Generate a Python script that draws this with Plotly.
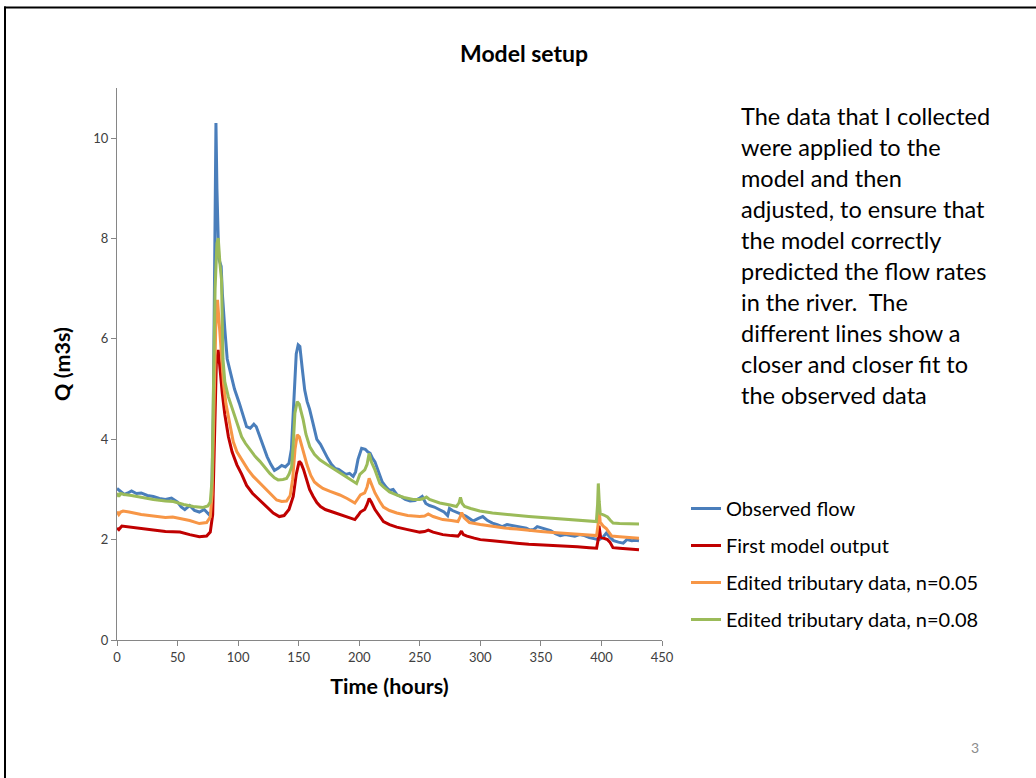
import plotly.graph_objects as go

# ---- data ----
observed_flow = [
    (0, 3.02), (3, 2.95), (6, 2.90), (9, 2.93), (12, 2.97), (16, 2.92), (20, 2.93),
    (25, 2.88), (30, 2.86), (35, 2.82), (40, 2.80), (45, 2.83), (50, 2.75), (53, 2.65),
    (56, 2.60), (60, 2.68), (64, 2.58), (68, 2.55), (72, 2.60), (76, 2.50), (78, 2.55),
    (79.5, 4.5), (81, 9.0), (81.7, 10.3), (82.5, 9.0), (84, 7.6), (86, 7.45), (87, 6.9),
    (89, 6.2), (91, 5.6), (94, 5.3), (97, 5.0), (101, 4.72), (104, 4.5), (107, 4.25),
    (110, 4.22), (113, 4.30), (115, 4.25), (118, 4.05), (121, 3.85), (124, 3.65),
    (127, 3.50), (130, 3.38), (133, 3.42), (136, 3.48), (139, 3.45), (142, 3.52),
    (144, 3.8), (146, 4.8), (148, 5.7), (149.6, 5.88), (151, 5.85), (153, 5.4),
    (155, 4.98), (157, 4.75), (159, 4.6), (162, 4.3), (165, 4.0), (168, 3.9),
    (171, 3.75), (174, 3.62), (177, 3.50), (180, 3.42), (183, 3.40), (186, 3.35),
    (189, 3.30), (192, 3.32), (195, 3.26), (197, 3.35), (199, 3.60), (202, 3.82),
    (205, 3.80), (207, 3.75), (209, 3.72), (211, 3.62), (213, 3.55), (216, 3.35),
    (219, 3.15), (222, 3.05), (225, 2.98), (228, 3.00), (231, 2.90), (235, 2.85),
    (238, 2.80), (242, 2.77), (246, 2.78), (250, 2.83), (252, 2.86), (255, 2.72),
    (258, 2.68), (262, 2.65), (266, 2.60), (270, 2.55), (273, 2.48), (274.5, 2.62),
    (277, 2.58), (280, 2.55), (284, 2.50), (288, 2.47), (291, 2.42), (294, 2.37),
    (298, 2.42), (302, 2.46), (306, 2.38), (310, 2.33), (314, 2.30), (318, 2.26),
    (322, 2.30), (326, 2.28), (330, 2.27), (334, 2.25), (338, 2.23), (341, 2.19),
    (344, 2.20), (347, 2.26), (350, 2.24), (354, 2.20), (358, 2.18), (362, 2.12),
    (366, 2.08), (370, 2.10), (374, 2.09), (378, 2.07), (382, 2.10), (386, 2.08),
    (390, 2.04), (394, 2.02), (398, 2.00), (401, 2.04), (404, 2.13), (407, 2.05),
    (410, 1.98), (414, 1.95), (418, 1.93), (421, 2.00), (425, 1.98), (428, 1.99),
    (431, 1.98),
]

first_model = [
    (0, 2.23), (1.5, 2.20), (4, 2.27), (10, 2.25), (20, 2.21), (30, 2.19), (40, 2.16),
    (46, 2.16), (52, 2.15), (60, 2.10), (68, 2.06), (74, 2.07), (77, 2.15), (79, 2.5),
    (80.5, 4.2), (82, 5.5), (83.6, 5.78), (85, 5.4), (87, 4.9), (89, 4.5), (92, 4.05),
    (95, 3.75), (99, 3.49), (103, 3.30), (107, 3.08), (112, 2.92), (118, 2.78),
    (124, 2.63), (129, 2.53), (134, 2.46), (138, 2.48), (142, 2.60), (145.5, 2.86),
    (148, 3.30), (150.4, 3.56), (152, 3.52), (154, 3.40), (156.5, 3.20), (159, 3.00),
    (162, 2.86), (165, 2.74), (168, 2.66), (172, 2.60), (178, 2.55), (184, 2.50),
    (190, 2.45), (196.4, 2.40), (199, 2.48), (201, 2.55), (204.5, 2.60), (206.5, 2.70),
    (208.2, 2.82), (210, 2.75), (213, 2.60), (217, 2.45), (220, 2.36), (225, 2.30),
    (231, 2.25), (240, 2.20), (250, 2.15), (254, 2.16), (257, 2.19), (261, 2.15),
    (269, 2.10), (276, 2.08), (281.5, 2.07), (283.2, 2.12), (284.4, 2.17), (286, 2.10),
    (289, 2.07), (295, 2.03), (300, 2.00), (310, 1.98), (320, 1.95), (330, 1.93),
    (340, 1.91), (350, 1.90), (360, 1.88), (370, 1.87), (380, 1.86), (390, 1.84),
    (396, 1.83), (397.3, 2.00), (398, 2.28), (399.3, 2.05), (402, 2.02), (405, 2.00),
    (407, 1.95), (409.5, 1.84), (415, 1.83), (420, 1.82), (425, 1.81), (431, 1.80),
]

edited_n005 = [
    (0, 2.56), (1.5, 2.50), (3, 2.55), (5, 2.57), (10, 2.55), (20, 2.50), (30, 2.47),
    (40, 2.44), (46, 2.45), (52, 2.42), (60, 2.38), (68, 2.32), (74, 2.34), (77, 2.45),
    (78.5, 2.9), (80, 4.5), (81.5, 6.2), (83, 6.78), (84.5, 6.3), (86, 5.7), (88, 5.1),
    (90, 4.7), (92, 4.45), (96, 3.95), (99, 3.75), (103, 3.59), (108, 3.40),
    (112.5, 3.26), (118, 3.12), (123.5, 2.99), (128, 2.88), (131.8, 2.79), (136, 2.76),
    (140, 2.77), (143, 2.88), (145, 3.2), (147, 3.8), (148.8, 4.09), (150.5, 4.05),
    (152, 3.92), (154, 3.75), (157, 3.48), (160, 3.28), (163, 3.15), (166, 3.09),
    (170, 3.02), (176, 2.96), (184, 2.89), (190, 2.82), (196.4, 2.73), (199, 2.82),
    (201, 2.89), (204.5, 2.93), (206.5, 3.05), (208.2, 3.22), (210, 3.10), (213, 2.93),
    (217, 2.76), (220, 2.65), (225, 2.58), (231, 2.53), (240, 2.48), (250, 2.46),
    (254, 2.47), (257, 2.51), (261, 2.46), (269, 2.40), (276, 2.38), (281.5, 2.36),
    (283.3, 2.45), (284.6, 2.54), (286.5, 2.44), (291, 2.34), (300, 2.30), (310, 2.26),
    (320, 2.23), (330, 2.21), (340, 2.18), (350, 2.16), (360, 2.14), (370, 2.12),
    (380, 2.11), (390, 2.09), (396, 2.08), (397.2, 2.30), (398, 2.62), (399, 2.35),
    (401.5, 2.27), (404, 2.22), (406, 2.15), (408.5, 2.07), (415, 2.06), (420, 2.05),
    (425, 2.04), (431, 2.03),
]

edited_n008 = [
    (0, 2.93), (1.5, 2.86), (3, 2.92), (6, 2.90), (12, 2.88), (20, 2.84), (30, 2.80),
    (40, 2.77), (46.5, 2.76), (55, 2.70), (63, 2.66), (71, 2.64), (75, 2.67), (77, 2.75),
    (78.5, 3.2), (79.5, 4.8), (81, 7.0), (82.5, 7.9), (83.6, 8.01), (85, 7.5),
    (86.3, 7.18), (87.5, 5.6), (89, 5.15), (91.9, 4.85), (94.5, 4.65), (97.3, 4.45),
    (100, 4.25), (102.9, 4.05), (106, 3.92), (109.7, 3.79), (114, 3.66), (118, 3.56),
    (122, 3.44), (126.2, 3.32), (130, 3.23), (133, 3.19), (137, 3.20), (140, 3.22),
    (142, 3.30), (144.2, 3.45), (145.5, 3.9), (146.9, 4.52), (148.8, 4.75),
    (150.5, 4.70), (152, 4.55), (153.7, 4.39), (156, 4.10), (159.2, 3.85), (163, 3.70),
    (167.5, 3.59), (173, 3.50), (178.5, 3.42), (184, 3.34), (189.5, 3.26), (194, 3.18),
    (197.8, 3.12), (200.5, 3.30), (204.6, 3.39), (206.5, 3.50), (208.2, 3.72),
    (210, 3.55), (213, 3.39), (217, 3.12), (220, 3.05), (225, 2.95), (230.7, 2.89),
    (237, 2.84), (244.5, 2.80), (250, 2.80), (253, 2.82), (255.5, 2.85), (258, 2.80),
    (266.5, 2.73), (275, 2.69), (280.3, 2.66), (282.5, 2.74), (283.6, 2.84), (285, 2.72),
    (287, 2.66), (292, 2.62), (299.5, 2.57), (310, 2.53), (320, 2.50), (327, 2.49),
    (340, 2.46), (350, 2.44), (360, 2.43), (370, 2.41), (380, 2.39), (390, 2.37),
    (395.8, 2.36), (396.8, 2.70), (397.4, 3.12), (398.2, 2.75), (399, 2.52), (402, 2.49),
    (405, 2.45), (407.5, 2.38), (409.6, 2.33), (415, 2.32), (420, 2.32), (425, 2.31),
    (431, 2.31),
]

series_names = ["Observed flow", "First model output",
                "Edited tributary data, n=0.05", "Edited tributary data, n=0.08"]
series_data = [observed_flow, first_model, edited_n005, edited_n008]
series_colors = ["#4A7EBB", "#C00000", "#F79646", "#9BBB59"]

x_ticks = [0, 50, 100, 150, 200, 250, 300, 350, 400, 450]
y_ticks = [0, 2, 4, 6, 8, 10]

note_lines = [
    "The data that I collected",
    "were applied to the",
    "model and then",
    "adjusted, to ensure that",
    "the model correctly",
    "predicted the flow rates",
    "in the river.  The",
    "different lines show a",
    "closer and closer fit to",
    "the observed data",
]

FONT = "Lato"
W, H = 1036, 778
ML, MR, MT, MB = 117, 374, 88, 138
PW, PH = W - ML - MR, H - MT - MB


def px_x(px):
    return (px - ML) / PW


def px_y(py):
    return (H - MB - py) / PH


fig = go.Figure()
for i, (name, data, color) in enumerate(zip(series_names, series_data, series_colors)):
    fig.add_trace(go.Scatter(
        x=[p[0] for p in data], y=[p[1] for p in data],
        mode="lines", name=name, legendgroup=f"g{i}",
        line=dict(color=color, width=3),
    ))

axis_common = dict(
    showgrid=False, zeroline=False, showline=True, linecolor="#868686", linewidth=1,
    ticks="outside", ticklen=5, tickcolor="#868686", tickwidth=1,
    tickfont=dict(family=FONT, size=13, color="#404040"),
)

fig.update_layout(
    width=W, height=H,
    margin=dict(l=ML, r=MR, t=MT, b=MB),
    paper_bgcolor="white", plot_bgcolor="white",
    font=dict(family=FONT, color="black"),
    showlegend=True,
    legend=dict(
        x=px_x(686), y=px_y(489), xanchor="left", yanchor="top",
        font=dict(family=FONT, size=20, color="black"),
        traceorder="grouped", tracegroupgap=8, itemwidth=30,
        bgcolor="rgba(0,0,0,0)",
    ),
    xaxis=dict(range=[0, 450], tickvals=x_ticks,
               title=dict(text="<b>Time (hours)</b>", font=dict(family=FONT, size=21.5), standoff=15),
               **axis_common),
    yaxis=dict(range=[0, 11], tickvals=y_ticks,
               title=dict(text="<b>Q (m3s)</b>", font=dict(family=FONT, size=21.5), standoff=16),
               **axis_common),
)

# title
fig.add_annotation(text="<b>Model setup</b>", xref="paper", yref="paper",
                   x=px_x(524), y=px_y(53), xanchor="center", yanchor="middle",
                   showarrow=False, font=dict(family=FONT, size=23, color="black"))

# explanatory text, one line per annotation
for k, line in enumerate(note_lines):
    fig.add_annotation(text=line, xref="paper", yref="paper",
                       x=px_x(739), y=px_y(116 + 31 * k), xanchor="left", yanchor="middle",
                       showarrow=False, font=dict(family=FONT, size=23.5, color="black"))

# page number
fig.add_annotation(text="3", xref="paper", yref="paper",
                   x=px_x(975), y=px_y(747), xanchor="center", yanchor="middle",
                   showarrow=False, font=dict(family=FONT, size=14, color="#8C8C8C"))

# slide frame (top and left edges)
fig.add_shape(type="line", xref="paper", yref="paper",
              x0=px_x(4), x1=px_x(1040), y0=px_y(7.5), y1=px_y(7.5),
              line=dict(color="black", width=2))
fig.add_shape(type="line", xref="paper", yref="paper",
              x0=px_x(5), x1=px_x(5), y0=px_y(6.5), y1=px_y(790),
              line=dict(color="black", width=2))

# remove the default page margin so the 1036x778 figure fills the window exactly
fig.write_html("out.html", config={"displayModeBar": False},
               post_script="document.body.style.margin='0px';")
